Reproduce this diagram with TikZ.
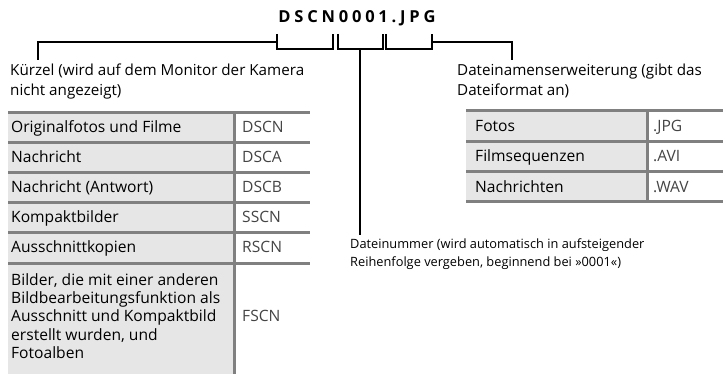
\documentclass[tikz,border=0pt]{standalone}
\usepackage{fontspec}
\setmainfont{Open Sans}
\newfontfamily\titlefont[LetterSpace=23]{Open Sans}
\definecolor{rulegray}{HTML}{808080}
\definecolor{cellfill}{HTML}{E6E6E6}
\definecolor{codegray}{HTML}{444444}
\tikzset{
  bracket/.style={line width=1.7pt, black},
  gridline/.style={rulegray, line width=3pt},
  lbl/.style={anchor=base west, align=left, inner sep=0pt, font=\fontsize{15.2}{20}\selectfont},
  cell/.style={anchor=base west, inner sep=0pt, font=\fontsize{15.6}{18.3}\selectfont, align=left},
  code/.style={cell, text=codegray},
}
\begin{document}
\begin{tikzpicture}[x=1pt,y=-1pt]
\useasboundingbox (0,0) rectangle (723,374);

% title
\node[anchor=base, inner sep=0pt, font=\titlefont\bfseries\fontsize{16.5}{18}\selectfont] (title) at (357,23) {DSCN0001.JPG};

% tables: fills
\fill[cellfill] (8,113) rectangle (234,374);
\fill[cellfill] (466,111) rectangle (647,201.5);

% left table lines
\foreach \yy in {113,142.5,172.5,202.5,232.5,263.5}
  \draw[gridline] (8,\yy) -- (310,\yy);
\draw[gridline] (234,113) -- (234,374);

% right table lines
\foreach \yy in {111,141.5,172,201.5}
  \draw[gridline] (466,\yy) -- (723,\yy);
\draw[gridline] (647,111) -- (647,201.5);

% labels (base anchor = baseline of last line)
\node[lbl] (kuerzel) at (10,96) {Kürzel (wird auf dem Monitor der Kamera\\nicht angezeigt)};
\node[lbl] (ext) at (457,96) {Dateinamenserweiterung (gibt das\\Dateiformat an)};
\node[lbl, font=\fontsize{12.8}{18.4}\selectfont] (num) at (350,266.5) {Dateinummer (wird automatisch in aufsteigender\\Reihenfolge vergeben, beginnend bei »0001«)};

% left table cells
\node[cell] (l1) at (11,133) {Originalfotos und Filme};
\node[code] (c1) at (242,133) {DSCN};
\node[cell] (l2) at (11,162.5) {Nachricht};
\node[code] (c2) at (242,162.5) {DSCA};
\node[cell] (l3) at (11,192.5) {Nachricht (Antwort)};
\node[code] (c3) at (242,192.5) {DSCB};
\node[cell] (l4) at (11,222.5) {Kompaktbilder};
\node[code] (c4) at (242,222.5) {SSCN};
\node[cell] (l5) at (11,252.5) {Ausschnittkopien};
\node[code] (c5) at (242,252.5) {RSCN};
\node[cell] (l6) at (11,358.3) {Bilder, die mit einer anderen\\Bildbearbeitungsfunktion als\\Ausschnitt und Kompaktbild\\erstellt wurden, und\\Fotoalben};
\node[code] (c6) at (242,321.7) {FSCN};

% right table cells
\node[cell] (r1) at (475,131.5) {Fotos};
\node[code] (e1) at (653,131.5) {.JPG};
\node[cell] (r2) at (475,162) {Filmsequenzen};
\node[code] (e2) at (653,162) {.AVI};
\node[cell] (r3) at (475,192.5) {Nachrichten};
\node[code] (e3) at (653,192.5) {.WAV};

% bracket coordinates
\coordinate (kEnd) at (38,60);
\coordinate (kBend) at (38,42);
\coordinate (aTL) at (277,34);
\coordinate (aBL) at (277,49);
\coordinate (aBR) at (333,49);
\coordinate (aTR) at (333,34);
\coordinate (aJoin) at (277,42);
\coordinate (bTL) at (338,34);
\coordinate (bBL) at (338,49);
\coordinate (bBR) at (383,49);
\coordinate (bTR) at (383,34);
\coordinate (bStem) at (360,49);
\coordinate (bEnd) at (360,235);
\coordinate (cTL) at (386,34);
\coordinate (cBL) at (386,49);
\coordinate (cBR) at (432,49);
\coordinate (cTR) at (432,34);
\coordinate (cJoin) at (432,42);
\coordinate (cBend) at (512,42);
\coordinate (cEnd) at (512,60);

% brackets
\draw[bracket] (kEnd) -- (kBend) -- (aJoin);
\draw[bracket] (aTL) -- (aBL) -- (aBR) -- (aTR);
\draw[bracket] (bTL) -- (bBL) -- (bBR) -- (bTR);
\draw[bracket] (bStem) -- (bEnd);
\draw[bracket] (cTL) -- (cBL) -- (cBR) -- (cTR);
\draw[bracket] (cJoin) -- (cBend) -- (cEnd);
\end{tikzpicture}
\end{document}
